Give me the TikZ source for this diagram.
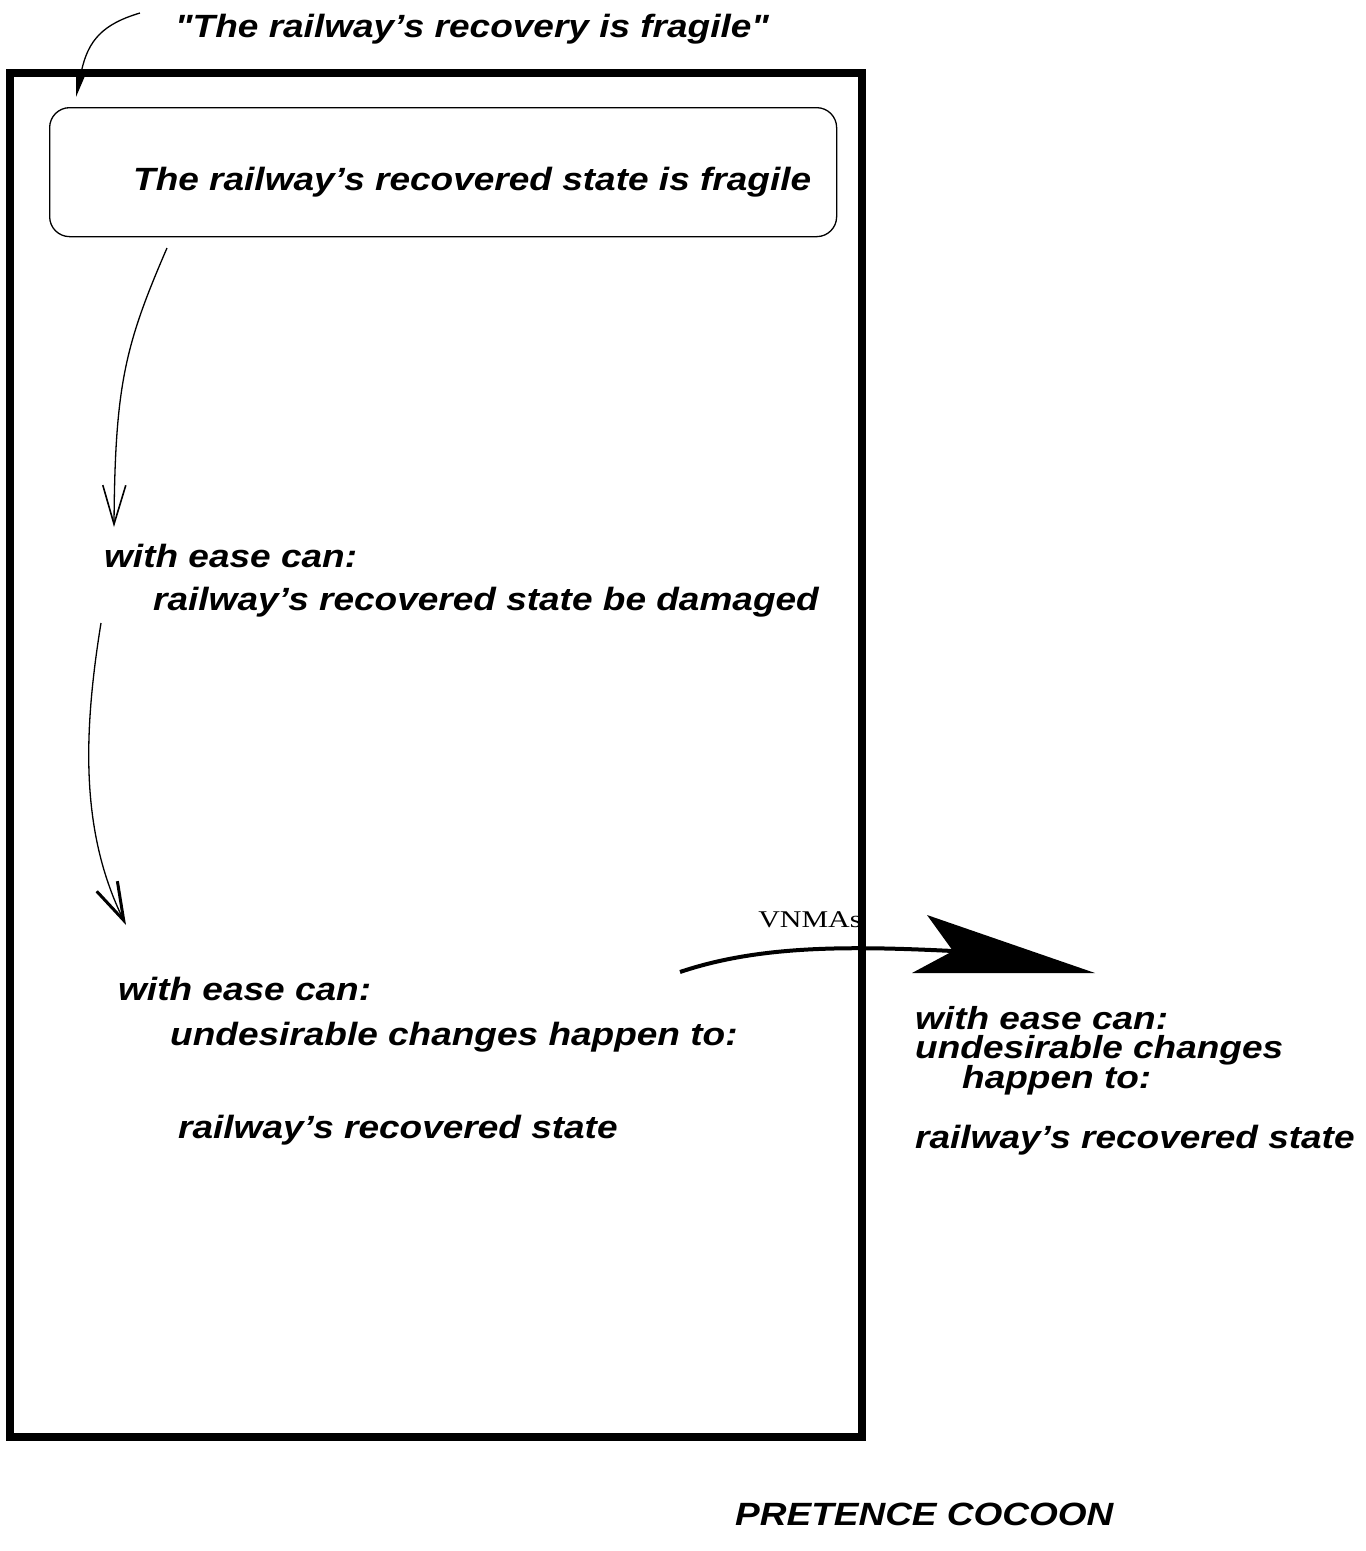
\documentclass[tikz,border=0pt]{standalone}
\usepackage{fontspec}
% a family without TeX ligature mapping keeps the straight double quotes
\newfontfamily\lbfont{Liberation Sans}
\newfontfamily\vnserif{Liberation Serif}
\usetikzlibrary{arrows.meta}
\begin{document}
\begin{tikzpicture}[x=1pt,y=-1pt,
  lbl/.style={anchor=base west, inner sep=0pt, yscale=0.87,
    font=\lbfont\fontsize{37}{37}\selectfont\bfseries\itshape},
  link/.style={line width=1.3pt},
  frame/.style={line width=8pt},
]
\useasboundingbox (0,0) rectangle (1366,1551);

% quoted statement and the state box
\node[lbl] (quote) at (175,37) {"The railway’s recovery is fragile"};
\node[draw, line width=1.3pt, rounded corners=20pt, anchor=north west,
      minimum width=787pt, minimum height=129pt, inner sep=0pt] (box) at (49,107) {};
\node[lbl] (fragile) at (133,190) {The railway’s recovered state is fragile};

% first elaboration
\node[lbl] (ease1) at (104,567) {with ease can:};
\node[lbl] (damaged) at (153,610) {railway’s recovered state be damaged};

% second elaboration
\node[lbl] (ease2) at (118,1000) {with ease can:};
\node[lbl] (changes) at (170,1045) {undesirable changes happen to:};
\node[lbl] (state) at (178,1138) {railway’s recovered state};

% outside the cocoon
\node[lbl, yscale=0.99] (ease3) at (915,1029) {with ease can:};
\node[lbl, yscale=0.99] (changes3) at (915,1058) {undesirable changes};
\node[lbl, yscale=0.99] (happen3) at (962,1088) {happen to:};
\node[lbl] (state3) at (915,1148) {railway’s recovered state};

\node[lbl] (cocoon) at (735,1525) {PRETENCE COCOON};

\node[anchor=base west, inner sep=0pt, xscale=1.25,
      font=\vnserif\fontsize{24}{24}\selectfont] (vnmas) at (758,927) {VNMAs};

% connectors
\coordinate (q0) at (140,13);
\coordinate (q1) at (76,97);
\draw[link, -{Triangle[length=26pt,width=10pt]}]
  (q0) .. controls (103,24) and (88,40) .. (q1);

\coordinate (a0) at (167,248);
\coordinate (a1) at (114,527);
\draw[link, -{Straight Barb[length=39pt,width=23pt,line width=1.6pt]}]
  (a0) .. controls (125,345) and (115,385) .. (a1);

\coordinate (b0) at (101,623);
\coordinate (b1) at (126,925);
\draw[link, -{Straight Barb[length=38pt,width=23pt,line width=3pt]}]
  (b0) .. controls (82,740) and (82,835) .. (b1);

% pretence frame
\draw[frame] (10,73) rectangle (862,1437);

% the broad arrow leaving the cocoon
\coordinate (c0) at (680,972);
\coordinate (c1) at (953,951);
\draw[line width=4pt] (c0) .. controls (760,945) and (850,946) .. (c1);
\fill (c1) -- (927,915) -- (1095,973) -- (912,973) -- cycle;

\end{tikzpicture}
\end{document}
